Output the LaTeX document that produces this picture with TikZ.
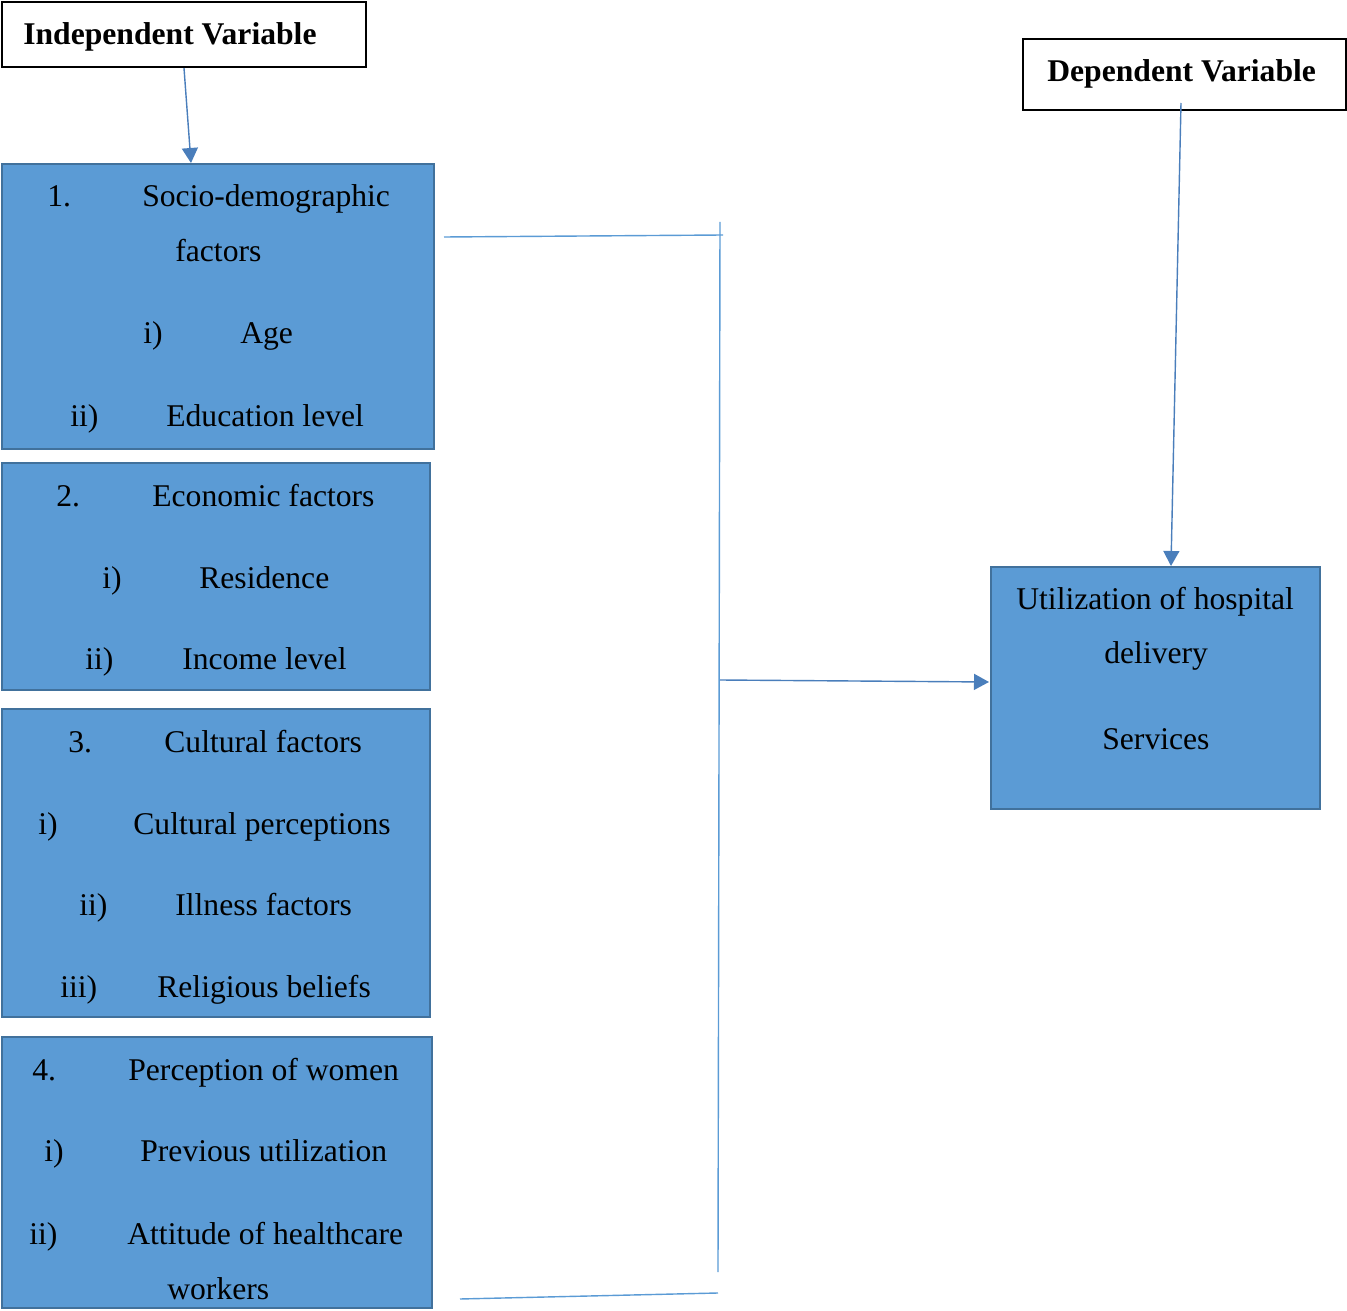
\documentclass[tikz,border=0pt]{standalone}
\usepackage{fontspec}
\setmainfont{Liberation Serif}
\usepackage{tikz}
\usetikzlibrary{positioning,fit,arrows.meta}

\definecolor{boxfill}{HTML}{5B9BD5}
\definecolor{boxline}{HTML}{41719C}
\definecolor{arrblue}{HTML}{4A7EBB}

\tikzset{
  varbox/.style={draw=black, line width=1.2pt, inner sep=0pt},
  factorbox/.style={draw=boxline, fill=boxfill, line width=1.4pt, inner sep=0pt},
  lbl/.style={inner sep=0pt, anchor=base west, yshift=-0.04cm, font=\fontsize{18}{21.6}\selectfont},
  link/.style={draw=boxfill, line width=0.8pt},
  arr/.style={draw=arrblue, line width=0.8pt, -{Triangle[length=0.3cm,width=0.32cm]}}
}

\begin{document}
\begin{tikzpicture}[x=0.02cm,y=-0.02cm]
\useasboundingbox (0,0) rectangle (1347,1311);

% variable headings
\node[varbox, fit={(2,2) (366,67)}] (indep) {};
\node[lbl, font=\fontsize{18}{21.6}\selectfont\bfseries] (indeptxt) at (23,43) {Independent Variable};
\node[varbox, fit={(1023,39) (1346,110)}] (depv) {};
\node[lbl, font=\fontsize{18}{21.6}\selectfont\bfseries] (deptxt) at (1047,80) {Dependent Variable};

% factor boxes
\node[factorbox, fit={(2,164) (434,449)}] (socio) {};
\node[factorbox, fit={(2,463) (430,690)}] (econ) {};
\node[factorbox, fit={(2,709) (430,1017)}] (cult) {};
\node[factorbox, fit={(2,1037) (432,1308)}] (percep) {};
\node[factorbox, fit={(991,567) (1320,809)}] (util) {};

% box texts
\foreach \nm/\x/\y/\t in {
    soa/47/205/1., sob/142/205/Socio-demographic, soc/175/260/factors,
    sod/143/342/i), soe/240/342/Age, sof/70/425/ii), sog/166/425/Education level,
    eca/56/505/2., ecb/152/505/Economic factors,
    ecc/102/587/i), ecd/199/587/Residence, ece/85/668/ii), ecf/182/668/Income level,
    cua/68/751/3., cub/164/751/Cultural factors,
    cuc/38/832/i), cud/133/832/Cultural perceptions,
    cue/79/913/ii), cuf/175/913/Illness factors,
    cug/60/995/iii), cuh/157/995/Religious beliefs,
    pea/32/1078/4., peb/128/1078/Perception of women,
    pec/44/1159/i), ped/140/1159/Previous utilization,
    pee/29/1242/ii), pef/127/1242/Attitude of healthcare, peg/167/1297/workers,
    uta/1016/608/Utilization of hospital, utb/1104/662/delivery, utc/1102/747/Services}
  \node[lbl] (\nm) at (\x,\y) {\t};

% bracket
\coordinate (brtop) at (720,222);
\coordinate (brbot) at (718,1272);
\coordinate (toplft) at (444,237);
\coordinate (toprgt) at (723,235);
\coordinate (botlft) at (460,1299);
\coordinate (botrgt) at (718,1293);
\coordinate (midlft) at (720,680);
\path[link] (toplft) -- (toprgt);
\path[link] (brtop) -- (brbot);
\path[link] (botlft) -- (botrgt);

% arrows
\coordinate (depstart) at (1181,103);
\coordinate (indtip) at (191,163);
\coordinate (deptip) at (1171,566);
\coordinate (utiltip) at (989,682);
\path[arr] (indep.south) -- (indtip);
\path[arr] (depstart) -- (deptip);
\path[arr] (midlft) -- (utiltip);
\end{tikzpicture}
\end{document}
